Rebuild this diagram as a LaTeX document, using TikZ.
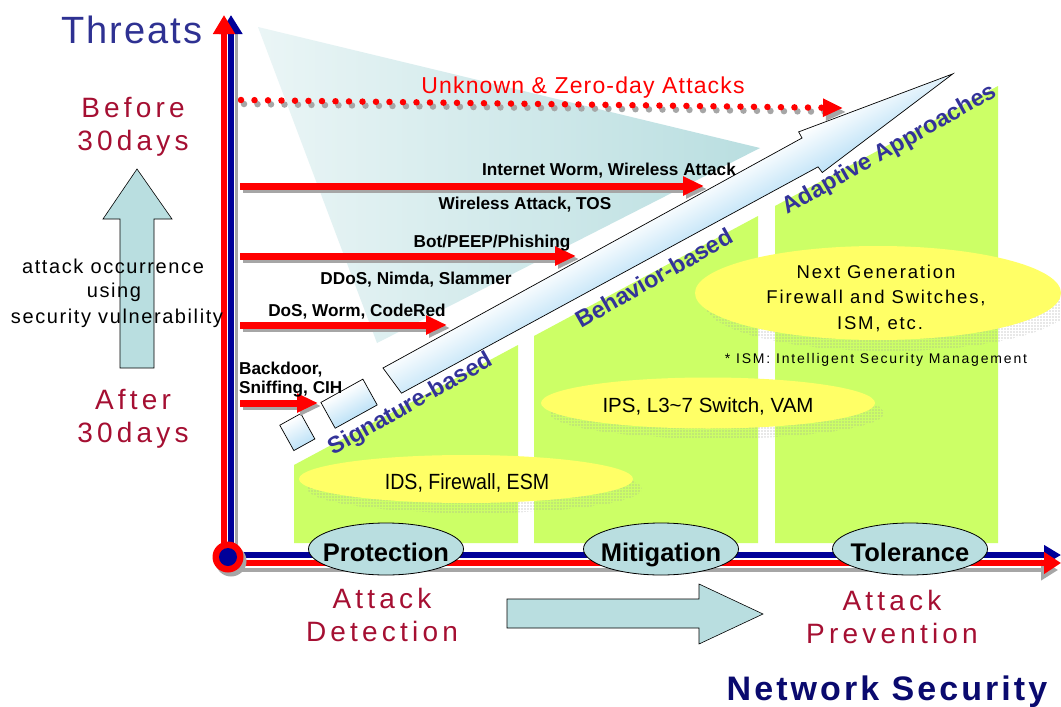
\documentclass[tikz,border=0pt]{standalone}
\usepackage{fontspec}
\setmainfont{Liberation Sans}
\newfontfamily\redlabelfont[LetterSpace=15]{Liberation Sans}
\newfontfamily\threatfont[LetterSpace=5]{Liberation Sans}
\newfontfamily\netsecfont[LetterSpace=9]{Liberation Sans}
\newfontfamily\ngffont[LetterSpace=10]{Liberation Sans}
\newfontfamily\ismfont[LetterSpace=13]{Liberation Sans}
\newfontfamily\zerodayfont[LetterSpace=5]{Liberation Sans}
\newfontfamily\sidefont[LetterSpace=8]{Liberation Sans}
\usetikzlibrary{arrows.meta,patterns.meta,shapes.geometric}

\definecolor{axisred}{RGB}{255,0,0}
\definecolor{axisblue}{RGB}{0,0,153}
\definecolor{panelgreen}{RGB}{204,255,102}
\definecolor{ovalyellow}{RGB}{255,255,102}
\definecolor{softteal}{RGB}{185,222,224}
\definecolor{barblue}{RGB}{190,226,247}
\definecolor{labelred}{RGB}{165,15,50}
\definecolor{titleblue}{RGB}{46,49,146}
\definecolor{netblue}{RGB}{10,10,110}
\definecolor{slantblue}{RGB}{51,51,153}

\tikzset{
  oval/.style={ellipse, fill=ovalyellow, inner sep=0pt},
  ovalshadow/.style={ellipse, inner sep=0pt, pattern={Dots[radius=0.55pt,distance=3pt]}, pattern color=gray!75},
  ovaltext/.style={anchor=base, inner sep=0pt, text=black},
  phase/.style={ellipse, draw=black, line width=0.8pt, fill=softteal, inner sep=0pt, minimum width=155pt, minimum height=52pt},
  phasetext/.style={font=\fontsize{25.5}{28}\selectfont\bfseries, anchor=base, inner sep=0pt},
  attacklabel/.style={font=\fontsize{17.2}{19}\selectfont\bfseries, anchor=base, inner sep=0pt},
  redtext/.style={font=\redlabelfont\fontsize{28}{30}\selectfont, text=labelred, anchor=base, inner sep=0pt},
  sidetext/.style={font=\sidefont\fontsize{20}{22}\selectfont, anchor=base, inner sep=0pt},
  slanttext/.style={font=\fontsize{23.5}{26}\selectfont\bfseries, text=slantblue, rotate=29.5, inner sep=0pt},
  redarrow/.style={draw=axisred, line width=7pt, -{Triangle[length=21pt,width=18pt]}},
  arrowshadow/.style={draw=gray!70, line width=7pt, -{Triangle[length=21pt,width=18pt]}},
  blockarrow/.style={fill=softteal, draw=black, line width=0.6pt},
  stepbar/.style={top color=white, bottom color=barblue, draw=black, line width=0.7pt},
}

\begin{document}
\begin{tikzpicture}[x=1pt,y=-1pt]
\useasboundingbox (0,0) rectangle (1061,707);
\fill[white] (0,0) rectangle (1061,707);

% backdrop wedge behind the threat arrows
\shade[left color=softteal!30!white, right color=softteal] (258,27) -- (760,148) -- (377,343) -- cycle;

% green solution panels
\fill[panelgreen] (294,465) -- (518,345) -- (518,543) -- (294,543) -- cycle;
\fill[panelgreen] (534,336) -- (758,216) -- (758,543) -- (534,543) -- cycle;
\fill[panelgreen] (775,206) -- (998,86) -- (998,543) -- (775,543) -- cycle;

% yellow product ovals with halftone shadows
\node[ovalshadow, minimum width=334pt, minimum height=48pt] (idsshadow) at (475,489) {};
\node[oval, minimum width=334pt, minimum height=48pt] (idsoval) at (466,479) {};
\node[ovaltext, font=\fontsize{22}{24}\selectfont] (idstext) at (467,489) {\scalebox{0.89}[1]{IDS, Firewall, ESM}};

\node[ovalshadow, minimum width=334pt, minimum height=51pt] (ipsshadow) at (717,413) {};
\node[oval, minimum width=334pt, minimum height=51pt] (ipsoval) at (708,403) {};
\node[ovaltext, font=\fontsize{20.5}{23}\selectfont] (ipstext) at (708,412) {IPS, L3\char`~7 Switch, VAM};

\node[ovalshadow, minimum width=366pt, minimum height=94pt] (ngfshadow) at (888,304) {};
\node[oval, minimum width=366pt, minimum height=94pt] (ngfoval) at (878,293) {};
\node[ovaltext, font=\ngffont\fontsize{18.5}{21}\selectfont] (ngf1) at (876,278) {Next Generation};
\node[ovaltext, font=\ngffont\fontsize{18.5}{21}\selectfont] (ngf2) at (876,303) {Firewall and Switches,};
\node[ovaltext, font=\ngffont\fontsize{18.5}{21}\selectfont] (ngf3) at (880,329) {ISM, etc.};
\node[ovaltext, font=\ismfont\fontsize{14}{16}\selectfont] (ismnote) at (876,363) {* ISM: Intelligent Security Management};

% stepped approach arrow, drawn along its own axis
\begin{scope}[transform canvas={shift={(383,368)}, rotate=29}]
  \shadedraw[stepbar] (-118,0) rectangle (-94,29);
  \shadedraw[stepbar] (-71,0) rectangle (-23,29.5);
  \shadedraw[stepbar] (0,0) -- (478,2) -- (478,-5) -- (641,19) -- (479,42) -- (478,35) -- (4,31) -- cycle;
\end{scope}

% approach labels along the slope
\node[slanttext] (sig) at (411,405) {Signature-based};
\node[slanttext] (beh) at (654,278) {Behavior-based};
\node[slanttext] (ada) at (890,150) {Adaptive Approaches};

% unknown attacks, dotted
\coordinate (zd0) at (241,100);
\coordinate (zd1) at (843,108);
\draw[gray!70, line width=6.5pt, line cap=round, dash pattern=on 0pt off 13.5pt, -{Triangle[length=20pt,width=17pt]}] ([shift={(3,4)}]zd0) -- ([shift={(3,4)}]zd1);
\draw[axisred, line width=6.5pt, line cap=round, dash pattern=on 0pt off 13.5pt, -{Triangle[length=20pt,width=17pt]}] (zd0) -- (zd1);
\node[font=\zerodayfont\fontsize{23}{25}\selectfont, text=axisred, anchor=base, inner sep=0pt] (zeroday) at (583,93) {Unknown \& Zero-day Attacks};

% threat generations
\coordinate (t1s) at (240,186); \coordinate (t1e) at (704,186);
\coordinate (t2s) at (240,256); \coordinate (t2e) at (576,256);
\coordinate (t3s) at (240,325); \coordinate (t3e) at (447,325);
\coordinate (t4s) at (240,403); \coordinate (t4e) at (318,403);
\foreach \s/\e in {t1s/t1e, t2s/t2e, t3s/t3e, t4s/t4e}{
  \draw[arrowshadow] ([shift={(3,3)}]\s) -- ([shift={(3,3)}]\e);
  \draw[redarrow] (\s) -- (\e);
}
\node[attacklabel] (l1a) at (609,175) {Internet Worm, Wireless Attack};
\node[attacklabel] (l1b) at (525,209) {Wireless Attack, TOS};
\node[attacklabel] (l2a) at (492,247) {Bot/PEEP/Phishing};
\node[attacklabel] (l2b) at (416,284) {DDoS, Nimda, Slammer};
\node[attacklabel] (l3a) at (357,316) {DoS, Worm, CodeRed};
\node[attacklabel, anchor=base west] (l4a) at (239,374) {Backdoor,};
\node[attacklabel, anchor=base west] (l4b) at (239,393) {Sniffing, CIH};

% axes
\coordinate (origin) at (228,557);
\draw[gray!70, line width=3pt] (236,562) -- (236,32);
\draw[axisblue, line width=5.5pt, -{Triangle[length=19pt,width=22pt]}] (231,557) -- (231,15);
\draw[axisred, line width=5.5pt, -{Triangle[length=19pt,width=21pt]}] (224,557) -- (224,15);
\draw[gray!70, line width=4pt, -{Triangle[length=17pt,width=20pt]}] (229,570) -- (1058,570);
\draw[axisblue, line width=6pt, -{Triangle[length=17pt,width=19pt]}] (229,555) -- (1061,555);
\draw[axisred, line width=6.5pt, -{Triangle[length=17pt,width=21pt]}] (229,563) -- (1061,563);
\fill[gray!70] (231,561) circle[radius=15.5];
\fill[axisred] (origin) circle[radius=15.5];
\fill[axisblue] (origin) circle[radius=9];

% phases on the horizontal axis
\node[phase] (prot) at (386,549) {};
\node[phase] (miti) at (661,549) {};
\node[phase] (tole) at (910,549) {};
\node[phasetext] (prottext) at (386,561) {Protection};
\node[phasetext] (mititext) at (661,561) {Mitigation};
\node[phasetext] (toletext) at (910,561) {Tolerance};

% block arrows
\draw[blockarrow] (507,599) -- (699,599) -- (699,584) -- (763,614) -- (699,644) -- (699,628) -- (507,628) -- cycle;
\draw[blockarrow] (120,368) -- (154,368) -- (154,219) -- (172,219) -- (137,169) -- (103,219) -- (120,219) -- cycle;

% axis captions
\node[font=\threatfont\fontsize{38}{40}\selectfont, text=titleblue, anchor=base, inner sep=0pt] (threats) at (132,43) {Threats};
\node[font=\netsecfont\fontsize{34}{38}\selectfont\bfseries, text=netblue, anchor=base, inner sep=0pt] (netsec) at (887,700) {Network Security};

\node[redtext] (before1) at (133,117) {Before};
\node[redtext] (before2) at (133,150) {30days};
\node[redtext] (after1) at (133,409) {After};
\node[redtext] (after2) at (133,442) {30days};
\node[redtext] (det1) at (382,608) {Attack};
\node[redtext] (det2) at (382,641) {Detection};
\node[redtext] (prev1) at (892,610) {Attack};
\node[redtext] (prev2) at (892,643) {Prevention};

\node[sidetext] (side1) at (113,273) {attack occurrence};
\node[sidetext] (side2) at (114,297) {using};
\node[sidetext] (side3) at (117,323) {security vulnerability};
\end{tikzpicture}
\end{document}
